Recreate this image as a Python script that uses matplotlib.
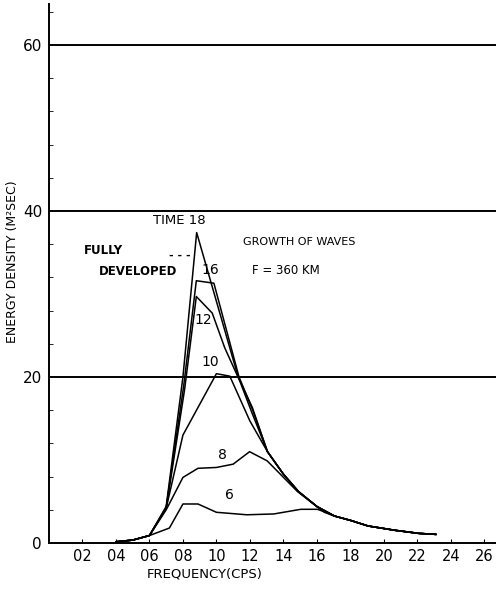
import matplotlib
matplotlib.use('Agg')
import matplotlib.pyplot as plt
from matplotlib.ticker import MultipleLocator

plt.rcParams['font.family'] = ['DejaVu Sans']

# frequency in units of 0.01 cps
start_x = [4.0, 5.0, 6.0]
start_y = [0.15, 0.35, 0.9]
tail_x = [17.05, 18.05, 19.06, 20.67, 22.08, 23.1]
tail_y = [3.25, 2.7, 2.05, 1.53, 1.16, 1.04]
merge_x = [13.05, 14.0, 14.9, 16.0]
merge_y = [11.0, 8.3, 6.2, 4.4]

t6_x = [7.19, 8.0, 8.9, 10.0, 11.82, 13.43, 15.04, 16.04, 16.65]
t6_y = [1.8, 4.7, 4.7, 3.7, 3.4, 3.5, 4.06, 4.06, 3.6]

t8_x = [7.0, 8.0, 8.9, 10.0, 11.0, 11.98, 13.03, 14.84, 16.45]
t8_y = [4.0, 7.9, 9.0, 9.1, 9.5, 11.0, 9.9, 6.2, 3.7]

t10_x = [7.0, 8.0, 10.0, 10.8, 12.0]
t10_y = [4.2, 13.0, 20.4, 20.1, 14.7]

t12_x = [7.0, 8.1, 8.8, 9.75, 10.5, 11.4, 12.1]
t12_y = [4.2, 18.5, 29.7, 27.7, 23.5, 19.5, 15.8]

t16_x = [7.0, 8.05, 8.8, 9.85, 11.35, 12.15]
t16_y = [4.3, 19.0, 31.6, 31.3, 20.0, 16.1]

t18_x = [7.0, 8.0, 8.82, 11.3, 12.15]
t18_y = [4.4, 20.0, 37.4, 20.0, 16.3]

xticks = [2, 4, 6, 8, 10, 12, 14, 16, 18, 20, 22, 24, 26]
xlabels = ['02', '04', '06', '08', '10', '12', '14', '16', '18', '20', '22', '24', '26']
yticks = [0, 20, 40, 60]

curves = [
    (t6_x, t6_y, []),
    (t8_x, t8_y, []),
    (t10_x, t10_y, merge_x),
    (t12_x, t12_y, merge_x),
    (t16_x, t16_y, merge_x),
    (t18_x, t18_y, merge_x),
]

fig = plt.figure(figsize=(4.96, 5.91), dpi=100)
ax = fig.add_axes([49 / 496, 48 / 591, 447 / 496, 539.5 / 591])

for cx, cy, mx in curves:
    xs = start_x + cx + mx + tail_x
    ys = start_y + cy + (merge_y if mx else []) + tail_y
    ax.plot(xs, ys, color='black', lw=1.1)

for g in yticks[1:]:
    ax.axhline(g, color='black', lw=1.4)

ax.set_xlim(0, 26.7)
ax.set_ylim(0, 65)
ax.spines['top'].set_visible(False)
ax.spines['right'].set_visible(False)
ax.spines['left'].set_linewidth(1.4)
ax.spines['bottom'].set_linewidth(1.4)

ax.set_xticks(xticks)
ax.set_xticklabels(xlabels, fontsize=10.5)
ax.set_yticks(yticks)
ax.set_yticklabels([str(v) for v in yticks], fontsize=11)
ax.yaxis.set_minor_locator(MultipleLocator(4))
ax.tick_params(axis='x', direction='in', length=3, pad=4)
ax.tick_params(axis='y', which='major', direction='in', length=0, pad=5)
ax.tick_params(axis='y', which='minor', direction='in', length=3)

ax.set_xlabel('FREQUENCY(CPS)', fontsize=9.5)
ax.xaxis.set_label_coords(9.3 / 26.7, -0.045)
fig.text(13 / 496, 1 - 262 / 591, 'ENERGY DENSITY (M²SEC)', rotation=90,
         ha='center', va='center', fontsize=9)

ax.text(7.8, 38.9, 'TIME 18', ha='center', va='center', fontsize=9.5)
ax.text(2.1, 35.2, 'FULLY', ha='left', va='center', fontsize=8.5, fontweight='bold')
ax.text(3.0, 32.7, 'DEVELOPED', ha='left', va='center', fontsize=8.5, fontweight='bold')
ax.text(7.8, 34.6, '- - -', ha='center', va='center', fontsize=8, fontweight='bold')
ax.text(9.65, 32.9, '16', ha='center', va='center', fontsize=10)
ax.text(9.2, 26.9, '12', ha='center', va='center', fontsize=10)
ax.text(9.65, 21.8, '10', ha='center', va='center', fontsize=10)
ax.text(10.35, 10.6, '8', ha='center', va='center', fontsize=10)
ax.text(10.8, 5.8, '6', ha='center', va='center', fontsize=10)
ax.text(11.6, 36.3, 'GROWTH OF WAVES', ha='left', va='center', fontsize=8)
ax.text(12.1, 32.8, 'F = 360 KM', ha='left', va='center', fontsize=8.5)

fig.savefig('out.png', dpi=100)
